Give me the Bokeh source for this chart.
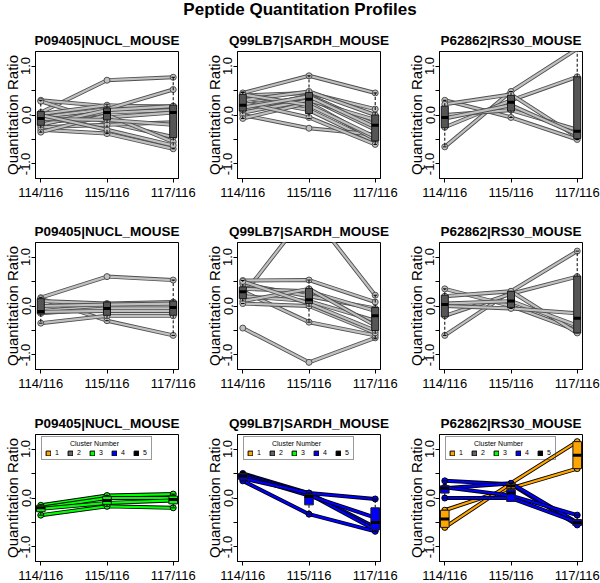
from bokeh.plotting import figure
from bokeh.models import Range1d, FixedTicker, Div, Legend, LegendItem, Label
from bokeh.layouts import column, row
from bokeh.embed import file_html
from bokeh.resources import INLINE

FONT = "Liberation Sans"
NAN = float("nan")

channels = ["114/116", "115/116", "117/116"]
proteins = ["P09405|NUCL_MOUSE", "Q99LB7|SARDH_MOUSE", "P62862|RS30_MOUSE"]
main_title = "Peptide Quantitation Profiles"
y_label = "Quantitation Ratio"
y_ticks = [-1.0, -0.5, 0.0, 0.5, 1.0]
y_tick_labels = ["-1.0", "", "0.0", "", "1.0"]
legend_title = "Cluster Number"
cluster_ids = [1, 2, 3, 4, 5]
cluster_colors = ["#FFA500", "#666666", "#00FF00", "#0000FF", "#000000"]

# ---------------- row 1 : raw peptide ratios ----------------
nucl_raw_114 = [0.05, 0.30, 0.28, 0.02, -0.05, -0.10, -0.15, -0.20, -0.25, -0.30, -0.35, -0.08, 0.00]
nucl_raw_115 = [0.71, 0.18, -0.15, 0.20, 0.12, 0.05, -0.05, 0.10, -0.20, -0.38, 0.00, -0.10, -0.30]
nucl_raw_117 = [0.77, 0.18, -0.45, 0.15, 0.52, 0.10, 0.05, 0.18, -0.15, -0.69, -0.55, -0.20, -0.62]
# box stats per channel: [lower whisker, q1, median, q3, upper whisker]
nucl_raw_box = [[-0.35, -0.21, -0.07, 0.07, 0.30],
                [-0.38, -0.10, 0.05, 0.14, 0.22],
                [-0.69, -0.46, 0.05, 0.20, 0.77]]

sardh_raw_114 = [0.45, 0.40, 0.35, 0.30, 0.20, 0.10, 0.05, 0.00, -0.07, 0.25, 0.42, 0.15]
sardh_raw_115 = [0.80, 0.45, 0.10, 0.48, 0.35, 0.40, 0.30, -0.27, 0.25, -0.05, 0.20, 0.38]
sardh_raw_117 = [0.45, 0.12, -0.55, 0.00, -0.30, -0.20, -0.10, -0.40, -0.50, -0.60, -0.45, -0.25]
sardh_raw_box = [[-0.07, 0.08, 0.20, 0.42, 0.46],
                 [-0.07, 0.03, 0.32, 0.46, 0.80],
                 [-0.60, -0.53, -0.21, 0.00, 0.45]]

rs30_raw_114 = [-0.65, -0.25, 0.30, 0.22, 0.00, -0.07]
rs30_raw_115 = [0.48, 0.30, -0.05, 0.42, 0.10, 0.20]
rs30_raw_117 = [1.35, 0.78, -0.50, -0.45, -0.30, -0.40]
rs30_raw_box = [[-0.65, -0.26, -0.05, 0.18, 0.30],
                [-0.05, 0.08, 0.26, 0.40, 0.48],
                [-0.50, -0.48, -0.33, 0.78, 1.35]]

# ---------------- row 2 : normalised peptide ratios ----------------
nucl_norm_114 = [0.17, 0.15, -0.35, 0.10, -0.10, -0.15, -0.12, 0.00]
nucl_norm_115 = [0.60, -0.30, -0.20, 0.05, 0.00, -0.05, -0.10, 0.03]
nucl_norm_117 = [0.53, -0.60, -0.20, 0.08, 0.00, -0.05, -0.10, 0.05]
nucl_norm_box = [[-0.35, -0.16, -0.11, 0.15, 0.17],
                 [-0.30, -0.19, -0.05, 0.08, 0.08],
                 [-0.60, -0.19, -0.03, 0.10, 0.53]]

sardh_norm_114 = [0.22, -0.45, 0.52, 0.45, 0.35, 0.30, 0.20, 0.10, 0.05, 0.50]
sardh_norm_115 = [1.95, -1.15, 0.53, 0.20, 0.30, -0.33, 0.10, 0.35, 0.00, 0.05]
sardh_norm_117 = [0.22, -0.65, 0.08, -0.05, -0.10, -0.60, -0.30, -0.40, -0.55, -0.50]
sardh_norm_box = [[0.05, 0.15, 0.29, 0.39, 0.52],
                  [-0.33, 0.05, 0.13, 0.36, 0.53],
                  [-0.67, -0.50, -0.20, -0.03, 0.22]]

rs30_norm_114 = [-0.60, -0.20, 0.35, 0.20, 0.05, 0.00]
rs30_norm_115 = [0.30, 0.25, 0.00, 0.30, 0.10, -0.05]
rs30_norm_117 = [1.12, 0.60, -0.50, -0.55, -0.40, -0.15]
rs30_norm_box = [[-0.60, -0.22, 0.03, 0.22, 0.35],
                 [-0.05, -0.03, 0.10, 0.30, 0.30],
                 [-0.55, -0.55, -0.25, 0.61, 1.12]]

# ---------------- row 3 : clustered peptide ratios ----------------
nucl_clu_114 = [-0.15, -0.20, -0.22, -0.35]
nucl_clu_115 = [0.05, 0.00, -0.10, -0.17]
nucl_clu_117 = [0.08, 0.00, -0.05, -0.20]
nucl_clu_cluster = [3, 3, 3, 3]
nucl_clu_box = {3: [[-0.35, -0.28, -0.20, -0.15, -0.14],
                    [-0.17, -0.13, -0.05, 0.03, 0.05],
                    [-0.20, -0.12, -0.03, 0.04, 0.08]]}

sardh_clu_114 = [0.50, 0.48, 0.45, 0.40, 0.35]
sardh_clu_115 = [0.10, 0.08, 0.05, 0.10, -0.33]
sardh_clu_117 = [-0.60, -0.65, -0.40, -0.02, -0.68]
sardh_clu_cluster = [4, 4, 4, 4, 4]
sardh_clu_box = {4: [[0.35, 0.38, 0.45, 0.50, 0.52],
                     [-0.33, -0.14, 0.03, 0.07, 0.10],
                     [-0.68, -0.65, -0.50, -0.20, -0.02]]}

rs30_clu_114 = [-0.25, -0.60, 0.35, 0.20, 0.22, 0.00]
rs30_clu_115 = [0.20, 0.30, 0.28, 0.30, 0.05, 0.00]
rs30_clu_117 = [0.60, 1.15, -0.55, -0.50, -0.35, -0.50]
rs30_clu_cluster = [1, 1, 4, 4, 4, 4]
rs30_clu_box = {1: [[-0.60, -0.60, -0.43, -0.25, -0.25],
                    [0.20, 0.20, 0.25, 0.30, 0.30],
                    [0.60, 0.60, 0.87, 1.15, 1.15]],
                4: [[0.00, 0.10, 0.20, 0.25, 0.35],
                    [0.00, -0.07, 0.10, 0.17, 0.30],
                    [-0.55, -0.56, -0.50, -0.44, -0.35]]}

# ---------------- layout constants ----------------
X = [1, 2, 3]
XLO, XHI = 0.92, 3.08
YLO, YHI = -1.296, 1.296
FRAME_W, FRAME_H = 143, 127
LEFT, TOP = 35, 27
RIGHTS = [24, 24, 18]
BOTTOMS = [37, 38, 22]


def style_axes(p):
    xa, ya = p.xaxis[0], p.yaxis[0]
    xa.ticker = FixedTicker(ticks=X)
    xa.major_label_overrides = {x: c for x, c in zip(X, channels)}
    ya.ticker = FixedTicker(ticks=y_ticks)
    ya.major_label_overrides = {t: s for t, s in zip(y_ticks, y_tick_labels)}
    ya.major_label_orientation = "vertical"
    ya.axis_label = y_label
    for ax in (xa, ya):
        ax.major_tick_in = 0
        ax.major_tick_out = 4
        ax.minor_tick_in = 0
        ax.minor_tick_out = 0
        ax.axis_line_color = "black"
        ax.major_tick_line_color = "black"
        ax.major_label_text_font = FONT
        ax.major_label_text_font_size = "13px"
        ax.major_label_text_color = "black"
    xa.major_label_standoff = 2
    ya.major_label_standoff = 1
    ya.axis_label_text_font = FONT
    ya.axis_label_text_font_size = "15px"
    ya.axis_label_text_font_style = "normal"
    ya.axis_label_text_color = "black"
    ya.axis_label_standoff = -2
    p.xgrid.visible = False
    p.ygrid.visible = False


def draw_box(p, x, b, fill, hw):
    lo, q1, med, q3, hi = b
    p.segment(x0=[x, x], y0=[q3, q1], x1=[x, x], y1=[hi, lo],
              line_color="black", line_dash="3 2", line_width=1)
    p.segment(x0=[x - hw / 2] * 2, x1=[x + hw / 2] * 2, y0=[hi, lo], y1=[hi, lo],
              line_color="black", line_width=1)
    p.quad(left=[x - hw], right=[x + hw], bottom=[q1], top=[q3],
           fill_color=fill, line_color="#1A1A1A", line_width=1)
    p.segment(x0=[x - hw], x1=[x + hw], y0=[med], y1=[med],
              line_color="black", line_width=3)


def make_panel(title, v114, v115, v117, col, rown,
               boxes=None, clusters=None, cboxes=None):
    p = figure(frame_width=FRAME_W, frame_height=FRAME_H,
               min_border_left=LEFT, min_border_right=RIGHTS[col],
               min_border_top=TOP, min_border_bottom=BOTTOMS[rown],
               x_range=Range1d(XLO, XHI), y_range=Range1d(YLO, YHI),
               output_backend="svg", toolbar_location=None, title=title)
    p.title.align = "center"
    p.title.text_font = FONT
    p.title.text_font_size = "13.5px"
    p.title.text_font_style = "bold"
    p.title.text_color = "black"
    p.title.standoff = 8
    p.outline_line_color = "black"
    p.outline_line_width = 1
    p.outline_line_alpha = 1
    style_axes(p)

    for i in range(len(v114)):
        ys = [v114[i], v115[i], v117[i]]
        if clusters is None:
            outer, inner, pfill, pline = "#505050", "#C0C0C0", "#C0C0C0", "#505050"
        else:
            c = cluster_colors[cluster_ids.index(clusters[i])]
            outer, inner, pfill, pline = "#000000", c, c, "#000000"
        p.line(X, ys, line_color=outer, line_width=4)
        p.line(X, ys, line_color=inner, line_width=2.2)
        p.scatter(X, ys, size=6, fill_color=pfill, line_color=pline, line_width=1)

    if clusters is None:
        for x, b in zip(X, boxes):
            draw_box(p, x, b, "#555555", 0.053)
    else:
        for k, blist in cboxes.items():
            c = cluster_colors[cluster_ids.index(k)]
            for x, b in zip(X, blist):
                draw_box(p, x, b, c, 0.065)
        items = []
        for k, c in zip(cluster_ids, cluster_colors):
            r = p.quad(left=[NAN], right=[NAN], top=[NAN], bottom=[NAN], fill_color=c,
                       line_color="black", line_width=1)
            items.append(LegendItem(label=str(k), renderers=[r]))
        leg_h = 24
        leg = Legend(items=items, orientation="horizontal",
                     location=(6, FRAME_H - 2 - leg_h),
                     title="\u00a0", title_text_font=FONT, title_text_font_size="7px",
                     title_standoff=2,
                     label_text_font=FONT, label_text_font_size="7px",
                     label_text_color="black",
                     glyph_width=6, glyph_height=6, label_height=7, label_width=5,
                     label_standoff=4, spacing=7, padding=3, margin=0,
                     border_line_color="#333333", border_line_width=1,
                     background_fill_color="white", background_fill_alpha=0)
        p.add_layout(leg)
        # centred legend title (R style)
        cx = XLO + (6 + 53) / FRAME_W * (XHI - XLO)
        cy = YHI - 9.0 / FRAME_H * (YHI - YLO)
        p.add_layout(Label(x=cx, y=cy, text=legend_title, text_font=FONT,
                           text_font_size="7px", text_align="center",
                           text_baseline="middle", text_color="black",
                           level="overlay"))
    return p


r1 = [make_panel(proteins[0], nucl_raw_114, nucl_raw_115, nucl_raw_117, 0, 0, boxes=nucl_raw_box),
      make_panel(proteins[1], sardh_raw_114, sardh_raw_115, sardh_raw_117, 1, 0, boxes=sardh_raw_box),
      make_panel(proteins[2], rs30_raw_114, rs30_raw_115, rs30_raw_117, 2, 0, boxes=rs30_raw_box)]
r2 = [make_panel(proteins[0], nucl_norm_114, nucl_norm_115, nucl_norm_117, 0, 1, boxes=nucl_norm_box),
      make_panel(proteins[1], sardh_norm_114, sardh_norm_115, sardh_norm_117, 1, 1, boxes=sardh_norm_box),
      make_panel(proteins[2], rs30_norm_114, rs30_norm_115, rs30_norm_117, 2, 1, boxes=rs30_norm_box)]
r3 = [make_panel(proteins[0], nucl_clu_114, nucl_clu_115, nucl_clu_117, 0, 2,
                 clusters=nucl_clu_cluster, cboxes=nucl_clu_box),
      make_panel(proteins[1], sardh_clu_114, sardh_clu_115, sardh_clu_117, 1, 2,
                 clusters=sardh_clu_cluster, cboxes=sardh_clu_box),
      make_panel(proteins[2], rs30_clu_114, rs30_clu_115, rs30_clu_117, 2, 2,
                 clusters=rs30_clu_cluster, cboxes=rs30_clu_box)]

head = Div(text=('<div style="width:600px;text-align:center;font-family:\'Liberation Sans\';'
                 'font-weight:bold;font-size:17px;line-height:20px;margin:0;">'
                 + main_title + '</div>'), width=600, height=24, margin=(0, 0, 0, 0))

layout = column(head, row(*r1), row(*r2), row(*r3), spacing=0)
open("out.html", "w").write(file_html(layout, INLINE))
